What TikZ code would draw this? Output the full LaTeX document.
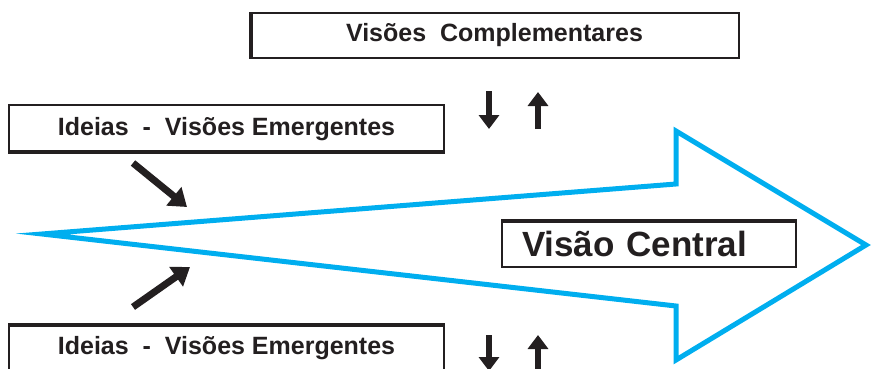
\documentclass[tikz,border=0pt]{standalone}
\usepackage{fontspec}
\setmainfont{Liberation Sans}
\usetikzlibrary{arrows.meta}
\definecolor{flowblue}{RGB}{0,174,239}
\definecolor{inkblack}{RGB}{35,31,32}
\begin{document}
\begin{tikzpicture}[x=1pt,y=-1pt]
\tikzstyle{viewbox}=[draw=inkblack,line width=1.2pt,fill=white,inner sep=0pt,text=inkblack,font=\fontsize{25}{30}\selectfont\bfseries]
\tikzstyle{heavy}=[inkblack,line width=4pt]
\tikzstyle{push}=[inkblack,line width=6pt,-{Triangle[length=14pt,width=20pt]}]
\tikzstyle{feed}=[inkblack,line width=7pt,-{Triangle[length=17pt,width=23pt]}]
\clip (0,0) rectangle (873,369);
\draw[flowblue,line width=5pt,miter limit=25]
    (42,234) -- (676,184) -- (676,131) -- (866,245) -- (676,360) -- (676,306) -- cycle;
\node [viewbox,minimum width=489pt,minimum height=45pt] (compl) at (494.5,35.5) {Visões\ \ Complementares};
\node [viewbox,minimum width=435pt,minimum height=48pt] (ideiastop) at (226.5,129) {Ideias\ \ -\ \ Visões Emergentes};
\node [viewbox,minimum width=435pt,minimum height=48pt] (ideiasbot) at (226.5,348) {Ideias\ \ -\ \ Visões Emergentes};
\node [viewbox,minimum height=47pt,text width=254pt,inner xsep=20pt,font=\fontsize{35}{40}\selectfont\bfseries] (central) at (649,243.5) {Visão Central};
\draw[heavy] ([xshift=1.5pt]compl.north west) -- ([xshift=1.5pt]compl.south west);
\draw[heavy] ([yshift=1.5pt]ideiastop.south west) -- ([yshift=1.5pt]ideiastop.south east);
\draw[heavy] ([yshift=-1.5pt]ideiasbot.north west) -- ([yshift=-1.5pt]ideiasbot.north east);
\draw[heavy] ([yshift=-1.5pt]central.north west) -- ([yshift=-1.5pt]central.north east);
\coordinate (dnA1) at (489,91);
\coordinate (dnA2) at (489,129);
\coordinate (upA1) at (538,129);
\coordinate (upA2) at (538,92);
\coordinate (dnB1) at (489,335);
\coordinate (dnB2) at (489,371);
\coordinate (upB1) at (538,372);
\coordinate (upB2) at (538,335);
\coordinate (inA1) at (133,163);
\coordinate (inA2) at (187,207);
\coordinate (inB1) at (133,307);
\coordinate (inB2) at (190,267);
\draw[push] (dnA1) -- (dnA2);
\draw[push] (upA1) -- (upA2);
\draw[push] (dnB1) -- (dnB2);
\draw[push] (upB1) -- (upB2);
\draw[feed] (inA1) -- (inA2);
\draw[feed] (inB1) -- (inB2);
\end{tikzpicture}
\end{document}
